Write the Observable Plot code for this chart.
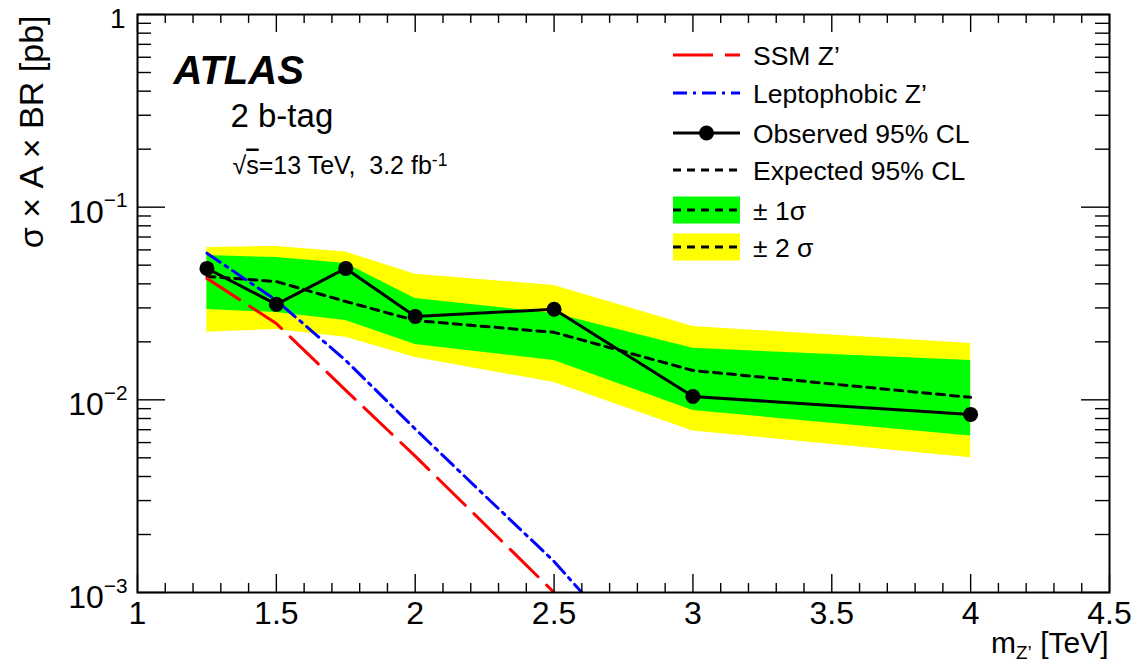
<!DOCTYPE html>
<html><head><meta charset="utf-8">
<script src="https://cdn.jsdelivr.net/npm/d3@7"></script>
<script src="https://cdn.jsdelivr.net/npm/@observablehq/plot@0.6"></script>
<style>
body{margin:0;background:#fff;}
#chart svg{display:block;}
#chart text{white-space:pre;}
</style></head><body><div id="chart"></div>
<script>
// ---- data ----
const mass     = [1.25, 1.5, 1.75, 2.0, 2.5, 3.0, 4.0];
const observed = [0.0481, 0.0313, 0.0481, 0.0271, 0.0295, 0.0104, 0.0084];
const expected = [0.0437, 0.0411, 0.0324, 0.0258, 0.0224, 0.0142, 0.0103];
const plus1    = [0.0561, 0.0548, 0.0510, 0.0336, 0.0281, 0.0185, 0.0160];
const minus1   = [0.0294, 0.0284, 0.0258, 0.0194, 0.0160, 0.0088, 0.0065];
const plus2    = [0.0618, 0.0625, 0.0585, 0.0448, 0.0392, 0.0240, 0.0196];
const minus2   = [0.0224, 0.0232, 0.0211, 0.0166, 0.0123, 0.0069, 0.0050];

const ssmMass  = [1.25, 1.5, 1.75, 2.0, 2.25, 2.5];
const ssmXsec  = [0.0427, 0.0249, 0.0112, 0.0051, 0.00226, 0.00100];
const leptoMass = [1.25, 1.5, 1.75, 2.0, 2.25, 2.5, 2.6];
const leptoXsec = [0.0577, 0.0328, 0.0160, 0.00706, 0.00319, 0.00145, 0.00100];

const xMajor = [1, 1.5, 2, 2.5, 3, 3.5, 4, 4.5];
const xMinor = d3.range(10, 46).map(d => d / 10).filter(d => !xMajor.includes(d));
const yDecades = [1e-3, 1e-2, 1e-1, 1];
const yDecadeLabels = ["10^{−3}", "10^{−2}", "10^{−1}"];
const yMinor = [1e-3, 1e-2, 1e-1].flatMap(d => [2,3,4,5,6,7,8,9].map(k => k * d));

const legendItems = ["SSM Z’", "Leptophobic Z’", "Observed 95% CL", "Expected 95% CL", "± 1σ", "± 2 σ"];

// ---- layout ----
const W = 1140, H = 668, mL = 137, mR = 31, mT = 14, mB = 76;
const pw = W - mL - mR, ph = H - mT - mB;
const font = "'Liberation Sans', Arial, Helvetica, sans-serif";
const GREEN = "#00ff00", YELLOW = "#ffff00";

const band = mass.map((m, i) => ({m, obs: observed[i], exp: expected[i], p1: plus1[i], m1: minus1[i], p2: plus2[i], m2: minus2[i]}));
const ssm = ssmMass.map((m, i) => ({m, v: ssmXsec[i]}));
const lepto = leptoMass.map((m, i) => ({m, v: leptoXsec[i]}));
const tk = {stroke: "black", strokeWidth: 1.4};

const chart = Plot.plot({
  width: W, height: H, marginLeft: mL, marginRight: mR, marginTop: mT, marginBottom: mB,
  x: {domain: [1, 4.5], axis: null},
  y: {type: "log", domain: [1e-3, 1], axis: null},
  style: {fontFamily: font, background: "white", color: "black"},
  marks: [
    Plot.areaY(band, {x: "m", y1: "m2", y2: "p2", fill: YELLOW}),
    Plot.areaY(band, {x: "m", y1: "m1", y2: "p1", fill: GREEN}),
    Plot.line(band, {x: "m", y: "exp", stroke: "black", strokeWidth: 3, strokeDasharray: "8,6"}),
    Plot.line(ssm, {x: "m", y: "v", stroke: "#ff0000", strokeWidth: 3, strokeDasharray: "39,12", clip: true}),
    Plot.line(lepto, {x: "m", y: "v", stroke: "#0000ff", strokeWidth: 3, strokeDasharray: "16,6,3,6", clip: true}),
    Plot.line(band, {x: "m", y: "obs", stroke: "black", strokeWidth: 3}),
    Plot.dot(band, {x: "m", y: "obs", r: 7.5, fill: "black", stroke: "none"}),
    // ticks (inward, ROOT style) on all four sides
    Plot.tickX(xMajor, {x: d => d, insetTop: ph - 18, ...tk}),
    Plot.tickX(xMinor, {x: d => d, insetTop: ph - 9, ...tk}),
    Plot.tickX(xMajor, {x: d => d, insetBottom: ph - 18, ...tk}),
    Plot.tickX(xMinor, {x: d => d, insetBottom: ph - 9, ...tk}),
    Plot.tickY(yDecades, {y: d => d, insetRight: pw - 28, ...tk}),
    Plot.tickY(yMinor, {y: d => d, insetRight: pw - 14, ...tk}),
    Plot.tickY(yDecades, {y: d => d, insetLeft: pw - 28, ...tk}),
    Plot.tickY(yMinor, {y: d => d, insetLeft: pw - 14, ...tk}),
    Plot.frame({stroke: "black", strokeWidth: 2}),
    // tick labels
    Plot.text(xMajor, {x: d => d, frameAnchor: "bottom", dy: 31, lineAnchor: "bottom", fontSize: 32, text: d => String(d)}),
    Plot.text(yDecades.slice(0, 3), {y: d => d, frameAnchor: "left", dx: -10, dy: 15.5, lineAnchor: "bottom", textAnchor: "end", fontSize: 32, text: (d, i) => yDecadeLabels[i]}),
    Plot.text([1], {y: d => d, frameAnchor: "left", dx: -12, dy: 13, lineAnchor: "bottom", textAnchor: "end", fontSize: 28, text: d => "1"}),
    // axis titles
    Plot.text(["σ × A × BR [pb]"], {frameAnchor: "top-left", dx: -95, dy: 1, rotate: -90, textAnchor: "end", lineAnchor: "bottom", fontSize: 34, text: d => d}),
    Plot.text(["m_{Z’} [TeV]"], {frameAnchor: "bottom-right", dx: -1, dy: 60, textAnchor: "end", lineAnchor: "bottom", fontSize: 30, text: d => d}),
    // labels
    Plot.text(["ATLAS"], {frameAnchor: "top-left", dx: 36, dy: 69, textAnchor: "start", lineAnchor: "bottom", fontSize: 40, fontWeight: "bold", fontStyle: "italic", text: d => d}),
    Plot.text(["2 b-tag"], {frameAnchor: "top-left", dx: 93, dy: 112, textAnchor: "start", lineAnchor: "bottom", fontSize: 33, text: d => d}),
    Plot.text(["√#ov{s}=13 TeV,  3.2 fb^{-1}"], {frameAnchor: "top-left", dx: 95, dy: 159, textAnchor: "start", lineAnchor: "bottom", fontSize: 25, text: d => d})
  ]
});
document.getElementById("chart").appendChild(chart);

// rich text: super/subscripts and overline
function rich(svg) {
  d3.select(svg).selectAll("text").each(function () {
    const t = this.textContent;
    if (!/(\^\{|_\{|#ov\{)/.test(t)) return;
    const fs = parseFloat(getComputedStyle(this).fontSize);
    const small = t.includes("fb^");
    const supK = small ? 0.32 : 0.48;
    const supS = small ? 0.7 : 0.65;
    const parts = t.split(/(\^\{[^}]*\}|_\{[^}]*\}|#ov\{[^}]*\})/).filter(s => s.length);
    this.textContent = "";
    this.setAttribute("xml:space", "preserve");
    let shift = 0;
    for (const p of parts) {
      const ts = d3.select(this).append("tspan");
      let target = 0, txt = p, size = null, deco = null;
      if (p.startsWith("^{")) { target = -supK * fs; txt = p.slice(2, -1); size = supS * fs; }
      else if (p.startsWith("_{")) { target = 0.2 * fs; txt = p.slice(2, -1); size = 0.63 * fs; }
      else if (p.startsWith("#ov{")) { txt = p.slice(4, -1); deco = "overline"; }
      if (target - shift !== 0) ts.attr("dy", target - shift);
      shift = target;
      if (size) ts.attr("font-size", size);
      if (deco) ts.style("text-decoration", deco);
      ts.text(txt);
    }
  });
}
rich(chart);

// legend (inside frame, top right)
const lg = d3.select(chart).append("g").attr("font-family", font).attr("font-size", 26.5).attr("text-anchor", "start");
const rowY = [55, 93, 133, 170, 210, 247];
const x0 = 673, x1 = 740, tx = 753;
legendItems.forEach((label, i) => {
  const y = rowY[i];
  if (i === 4 || i === 5) {
    lg.append("rect").attr("x", x0).attr("y", y - 13.5).attr("width", x1 - x0).attr("height", 27)
      .attr("fill", i === 4 ? GREEN : YELLOW);
  }
  const line = lg.append("line").attr("x1", x0).attr("x2", x1).attr("y1", y).attr("y2", y)
    .attr("stroke-width", 3).attr("stroke", "black");
  if (i === 0) line.attr("stroke", "#ff0000").attr("stroke-dasharray", "40,12");
  if (i === 1) line.attr("stroke", "#0000ff").attr("stroke-dasharray", "14,6,3,6");
  if (i >= 3) line.attr("stroke-dasharray", "8,6");
  if (i === 2) lg.append("circle").attr("cx", (x0 + x1) / 2).attr("cy", y).attr("r", 7.5).attr("fill", "black");
  lg.append("text").attr("x", tx).attr("y", y + 9.5).attr("fill", "black").text(label);
});
</script>
</body></html>
